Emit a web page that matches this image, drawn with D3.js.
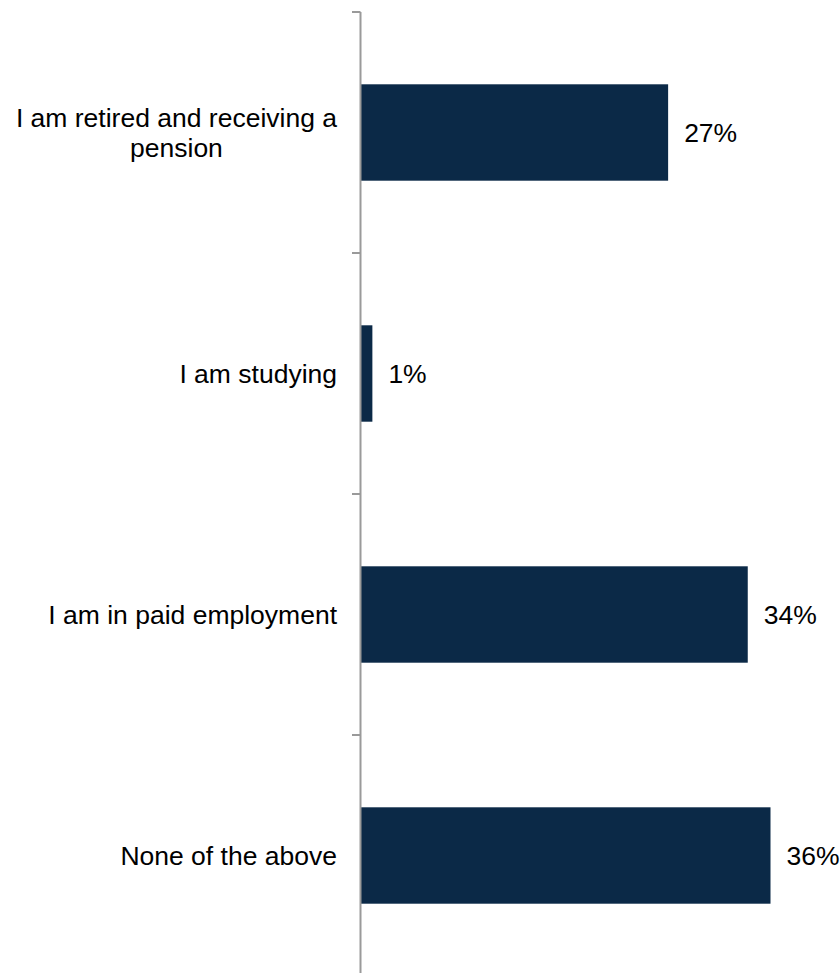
<!DOCTYPE html>
<html>
<head>
<meta charset="utf-8">
<script src="https://cdn.jsdelivr.net/npm/d3@7"></script>
<style>
html,body{margin:0;padding:0;background:#fff;}
svg{display:block;}
text{font-family:"Liberation Sans",Arial,sans-serif;fill:#000;}
</style>
</head>
<body>
<svg id="chart" width="840" height="973"></svg>
<script>
const categories = [["I am retired and receiving a", "pension"], ["I am studying"], ["I am in paid employment"], ["None of the above"]];
const values = [27, 1, 34, 36];
const valueLabels = ["27%", "1%", "34%", "36%"];

(function () {
const svg = d3.select("#chart");
const axisX = 361, yTop = 12, yBottom = 976;
const fontSize = 26.5;
const keys = categories.map((c, i) => i);

const y = d3.scaleBand().domain(keys).range([yTop, yBottom]).paddingInner(0.6).paddingOuter(0.3);
const yTicks = d3.scaleBand().domain(keys).range([yTop, yBottom]).padding(0);
const x = d3.scaleLinear().domain([0, 40]).range([axisX, axisX + 455]);

// bars
svg.append("g").selectAll("rect").data(values).join("rect")
  .attr("x", x(0))
  .attr("y", (d, i) => y(i))
  .attr("width", d => x(d) - x(0))
  .attr("height", y.bandwidth())
  .attr("fill", "#0b2947");

// axis line and ticks
const axisColor = "#9a9a9a";
svg.append("line").attr("x1", axisX - 0.5).attr("x2", axisX - 0.5)
  .attr("y1", yTop).attr("y2", yBottom)
  .attr("stroke", axisColor).attr("stroke-width", 2);
const tickYs = keys.map(k => yTicks(k)).concat([yBottom]);
svg.append("g").selectAll("line").data(tickYs).join("line")
  .attr("x1", axisX - 9).attr("x2", axisX - 0.5)
  .attr("y1", d => d).attr("y2", d => d)
  .attr("stroke", axisColor).attr("stroke-width", 2);

// value labels
svg.append("g").selectAll("text").data(values).join("text")
  .attr("x", d => x(d) + 16)
  .attr("y", (d, i) => y(i) + y.bandwidth() / 2)
  .attr("dy", "0.35em")
  .attr("font-size", fontSize)
  .text((d, i) => valueLabels[i]);

// category labels
const labelRight = 337;
const lineH = 30;
categories.forEach((lines, i) => {
  const cy = y(i) + y.bandwidth() / 2;
  const g = svg.append("g");
  const texts = lines.map((ln, j) => g.append("text")
    .attr("font-size", fontSize)
    .attr("text-anchor", "middle")
    .attr("y", cy + (j - (lines.length - 1) / 2) * lineH)
    .attr("dy", "0.35em")
    .text(ln));
  const maxW = d3.max(texts, t => t.node().getComputedTextLength());
  texts.forEach(t => t.attr("x", labelRight - maxW / 2));
});
})();
</script>
</body>
</html>
